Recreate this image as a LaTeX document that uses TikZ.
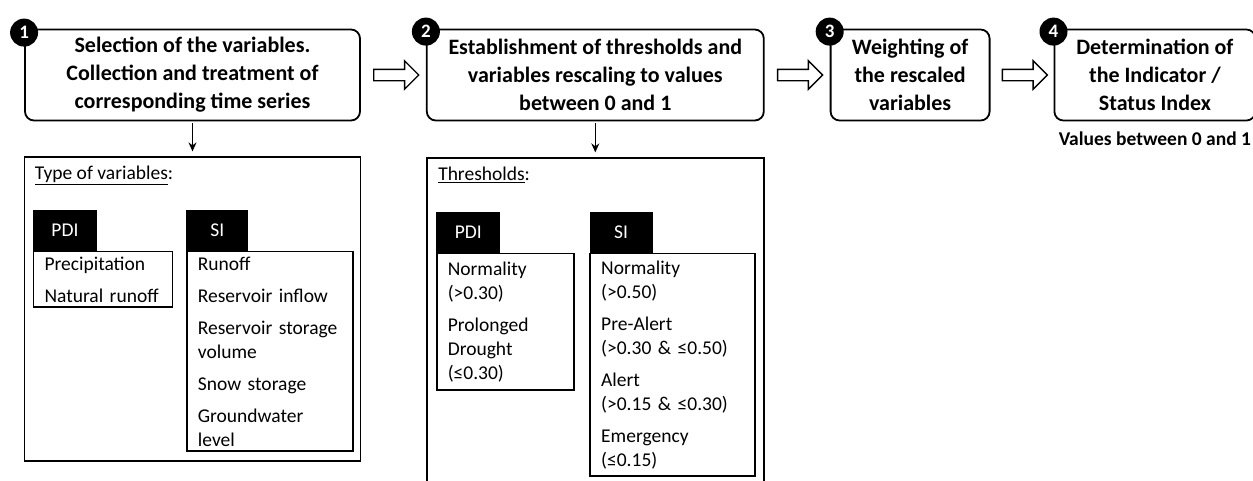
\documentclass[tikz,border=0pt]{standalone}
\usepackage{fontspec}
\setmainfont{Carlito}
\usepackage{tikz}
\usetikzlibrary{shapes.arrows, arrows.meta, positioning, calc}
\tikzset{
  stepbox/.style={rectangle, rounded corners=9pt, draw=black, line width=1.8pt,
                  minimum height=91pt, align=center, inner sep=2pt,
                  font=\fontsize{22}{28}\selectfont\bfseries},
  badge/.style={circle, fill=black, text=white, minimum size=28pt, inner sep=0pt,
                font=\fontsize{19}{19}\selectfont\bfseries},
  flowarrow/.style={single arrow, draw=black, line width=1.4pt, fill=white,
                    minimum height=45pt, inner xsep=0pt, inner ysep=5pt,
                    single arrow head extend=8.5pt},
  panel/.style={rectangle, draw=black, line width=1.5pt},
  heading/.style={font=\fontsize{19.5}{24}\selectfont, inner sep=0pt},
  tab/.style={rectangle, fill=black, text=white, minimum height=41pt, inner sep=0pt,
              font=\fontsize{19.5}{24}\selectfont},
  listbox/.style={rectangle, draw=black, line width=1.5pt, align=left,
                  inner xsep=11pt, inner ysep=5pt,
                  font=\fontsize{19.5}{24}\selectfont},
  downarrow/.style={-{Stealth[length=9pt, width=8pt]}, line width=1.3pt},
}
\begin{document}
\begin{tikzpicture}[x=1pt, y=-1pt]

  \clip (0,0) rectangle (1253,480);

  % ── Steps ────────────────────────────────────────────────────────────
  \node[stepbox, minimum width=335pt] (s1) at (192.5,75)
    {Selection of the variables.\\Collection and treatment of\\corresponding time series};
  \node[stepbox, minimum width=337pt, right=65pt of s1] (s2)
    {Establishment of thresholds and\\variables rescaling to values\\between 0 and 1};
  \node[stepbox, minimum width=159pt, right=65pt of s2] (s3)
    {Weighting of\\the rescaled\\variables};
  \node[stepbox, minimum width=201pt, right=63pt of s3] (s4)
    {Determination of\\the Indicator /\\Status Index};

  \node[font=\fontsize{19.5}{24}\selectfont\bfseries, inner sep=0pt,
        below=10pt of s4] (vals) {Values between 0 and 1};

  % ── Badges ───────────────────────────────────────────────────────────
  \node[badge] (b1) at ([yshift=-4pt]s1.north west) {1};
  \node[badge] (b2) at ([yshift=-3pt]s2.north west) {2};
  \node[badge] (b3) at ([yshift=-3pt]s3.north west) {3};
  \node[badge] (b4) at ([yshift=-3pt]s4.north west) {4};

  % ── Arrows between steps ─────────────────────────────────────────────
  \node[flowarrow] (a1) at ($(s1.east)!0.5!(s2.west)$) {};
  \node[flowarrow] (a2) at ($(s2.east)!0.5!(s3.west)$) {};
  \node[flowarrow] (a3) at ($(s3.east)!0.5!(s4.west)$) {};

  % ── Type of variables ────────────────────────────────────────────────
  \node[panel, minimum width=336pt, minimum height=304pt,
        below=35pt of s1] (v1) {};
  \node[heading, anchor=base west] (t1) at ([xshift=11pt, yshift=-23pt]v1.north west)
    {\underline{Type of variables}:};

  \node[tab, anchor=north west, minimum width=64pt] (p1)
    at ([xshift=9pt, yshift=-53pt]v1.north west) {PDI};
  \node[tab, minimum width=62pt, right=89pt of p1] (q1) {SI};

  \node[listbox, text width=117pt, below right=0pt of p1.south west] (pl1)
    {Precipitation\\[8pt]Natural runoff};
  \node[listbox, text width=144pt, below right=0pt of q1.south west] (ql1)
    {Runoff\\[8pt]Reservoir inflow\\[8pt]Reservoir storage\\volume\\[8pt]%
     Snow storage\\[8pt]Groundwater\\level};

  \draw[downarrow] ([yshift=-2pt]s1.south) -- ([yshift=5pt]v1.north);

  % ── Thresholds ───────────────────────────────────────────────────────
  \node[panel, minimum width=337pt, minimum height=335pt,
        below=36pt of s2] (v2) {};
  \node[heading, anchor=base west] (t2) at ([xshift=12pt, yshift=-23pt]v2.north west)
    {\underline{Thresholds}:};

  \node[tab, anchor=north west, minimum width=64pt] (p2)
    at ([xshift=10pt, yshift=-54pt]v2.north west) {PDI};
  \node[tab, minimum width=63pt, right=89pt of p2] (q2) {SI};

  \node[listbox, text width=115pt, inner ysep=8pt,
        below right=0pt of p2.south west] (pl2)
    {Normality\\(>0.30)\\[8pt]Prolonged\\Drought\\(≤0.30)};
  \node[listbox, text width=143pt, inner ysep=7pt,
        below right=0pt of q2.south west] (ql2)
    {Normality\\(>0.50)\\[8pt]Pre-Alert\\(>0.30 \& ≤0.50)\\[8pt]%
     Alert\\(>0.15 \& ≤0.30)\\[8pt]Emergency\\(≤0.15)};

  \draw[downarrow] ([yshift=-2pt]s2.south) -- ([yshift=5pt]v2.north);

\end{tikzpicture}
\end{document}
